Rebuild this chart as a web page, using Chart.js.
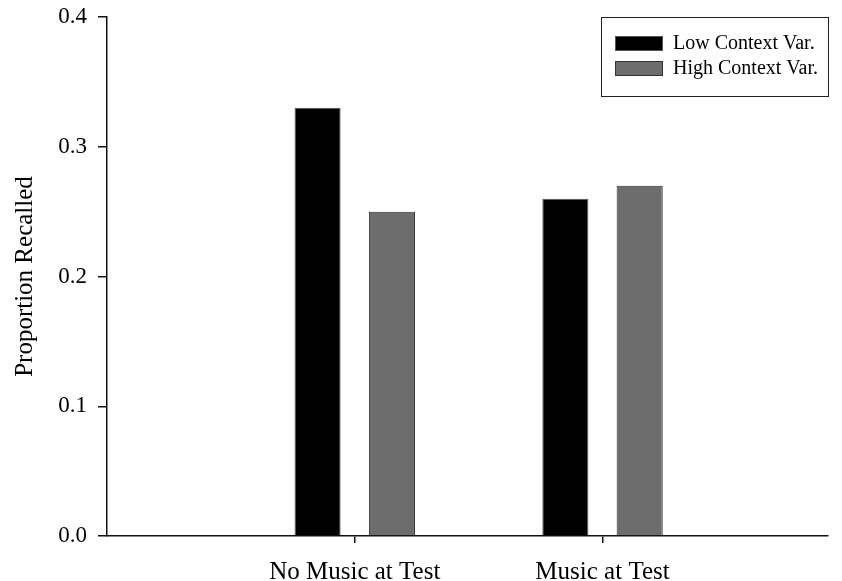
<!DOCTYPE html>
<html>
<head>
<meta charset="utf-8">
<script src="https://cdn.jsdelivr.net/npm/chart.js@4.4.1/dist/chart.umd.min.js"></script>
<style>
html,body{margin:0;padding:0;background:#fff;}
#wrap{width:842px;height:581px;}
</style>
</head>
<body>
<div id="wrap"><canvas id="chart" width="842" height="581"></canvas></div>
<script>
const categories = ["No Music at Test", "Music at Test"];
const seriesNames = ["Low Context Var.", "High Context Var."];
const lowContext = [0.33, 0.26];
const highContext = [0.25, 0.27];
const yTicks = [0, 0.1, 0.2, 0.3, 0.4];

const serif = "'Liberation Serif', 'Times New Roman', serif";
Chart.defaults.font.family = serif;
Chart.defaults.color = "#000";

// boxed legend in the top right corner of the plot
const boxLegend = {
  id: "boxLegend",
  afterDraw(chart) {
    const ctx = chart.ctx;
    const a = chart.chartArea;
    const w = 227, h = 79;
    const x0 = a.right - w, y0 = a.top;
    ctx.save();
    ctx.fillStyle = "#fff";
    ctx.fillRect(x0, y0, w, h);
    ctx.strokeStyle = "#222";
    ctx.lineWidth = 1;
    ctx.strokeRect(x0 + 0.5, y0 + 0.5, w, h);
    ctx.font = "20px " + serif;
    ctx.textBaseline = "middle";
    chart.data.datasets.forEach((ds, i) => {
      const sy = y0 + 19 + i * 25;
      ctx.fillStyle = ds.backgroundColor;
      ctx.fillRect(x0 + 14, sy, 48, 15);
      ctx.strokeStyle = ds.borderColor;
      ctx.strokeRect(x0 + 14.5, sy + 0.5, 47, 14);
      ctx.fillStyle = "#000";
      ctx.fillText(ds.label, x0 + 72, sy + 8);
    });
    ctx.restore();
  }
};

const toPoints = vals => categories.map((c, i) => ({ x: i + 1, y: vals[i] }));

new Chart(document.getElementById("chart"), {
  type: "bar",
  data: {
    datasets: [
      { label: seriesNames[0], data: toPoints(lowContext), backgroundColor: "#000", borderColor: "#555", borderWidth: 1 },
      { label: seriesNames[1], data: toPoints(highContext), backgroundColor: "#6d6d6d", borderColor: "#333", borderWidth: 1 }
    ]
  },
  options: {
    responsive: false,
    animation: false,
    categoryPercentage: 0.6,
    barPercentage: 0.62,
    layout: { padding: { top: 17, right: 14, left: 0, bottom: 0 } },
    plugins: { legend: { display: false }, tooltip: { enabled: false } },
    scales: {
      x: {
        type: "linear",
        offset: false,
        min: 0,
        max: 2.91,
        afterBuildTicks: s => { s.ticks = categories.map((c, i) => ({ value: i + 1 })); },
        afterFit: s => { s.height = 45; },
        ticks: {
          callback: v => categories[v - 1],
          font: { size: 25 },
          padding: 14,
          maxRotation: 0,
          autoSkip: false
        },
        grid: { offset: false, drawOnChartArea: false, drawTicks: true, tickLength: 7, color: "#111", lineWidth: 1.5 },
        border: { display: true, color: "#111", width: 1.5 }
      },
      y: {
        min: 0,
        max: 0.4,
        afterBuildTicks: s => { s.ticks = yTicks.map(v => ({ value: v })); },
        afterFit: s => { s.width = 107; s.paddingTop = 0; s.paddingBottom = 0; },
        ticks: {
          callback: v => v.toFixed(1),
          font: { size: 23 },
          padding: 11
        },
        grid: { drawOnChartArea: false, drawTicks: true, tickLength: 9, color: "#111", lineWidth: 1.5 },
        border: { display: true, color: "#111", width: 1.5 },
        title: {
          display: true,
          text: "Proportion Recalled",
          font: { size: 25 },
          padding: { top: 10, bottom: 0 }
        }
      }
    }
  },
  plugins: [boxLegend]
});
</script>
</body>
</html>
